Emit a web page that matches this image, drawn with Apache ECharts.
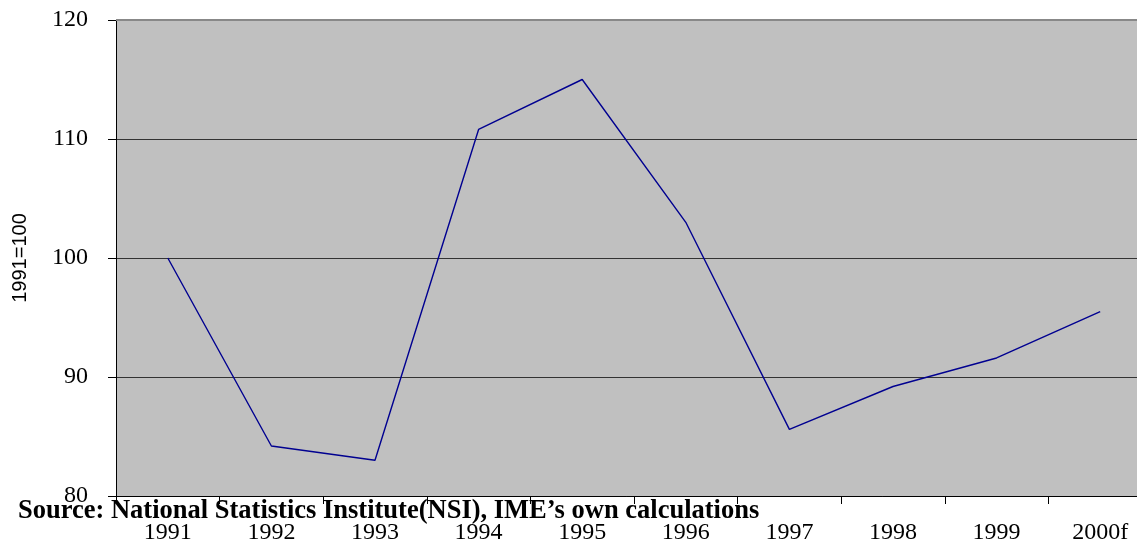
<!DOCTYPE html>
<html><head><meta charset="utf-8">
<script src="https://cdn.jsdelivr.net/npm/echarts@6/dist/echarts.min.js"></script>
<style>html,body{margin:0;padding:0;background:#fff;}#c{width:1137px;height:542px;}</style>
</head><body><div id="c"></div>
<script>
var categories = ['1991','1992','1993','1994','1995','1996','1997','1998','1999','2000f'];
var values = [100, 84.2, 83.0, 110.8, 115.0, 103.0, 85.6, 89.2, 91.6, 95.5];
var yTicks = [80, 90, 100, 110, 120];
var yName = '1991=100';
var sourceText = 'Source: National Statistics Institute(NSI), IME\u2019s own calculations';

var chart = echarts.init(document.getElementById('c'), null, {renderer:'canvas'});
chart.setOption({
  animation: false,
  backgroundColor: '#fff',
  grid: {left: 116, top: 20, width: 1036, height: 476, outerBoundsMode: 'none', containLabel: false,
         show: true, backgroundColor: '#c0c0c0', borderWidth: 0},
  xAxis: {
    type: 'category', data: categories, boundaryGap: true,
    axisLine: {show: true, lineStyle: {color: '#000', width: 1}},
    axisTick: {show: true, interval: 0, length: 8, lineStyle: {color: '#000'}},
    axisLabel: {interval: 0, margin: 25, color: '#000', fontFamily: 'Liberation Serif', fontSize: 24},
    splitLine: {show: false}
  },
  yAxis: {
    type: 'value', min: yTicks[0], max: yTicks[yTicks.length-1], interval: 10,
    name: yName, nameLocation: 'middle', nameRotate: 90, nameGap: 86,
    nameTextStyle: {fontFamily: 'Liberation Sans', fontSize: 20, color: '#000'},
    axisLine: {show: true, lineStyle: {color: '#000', width: 1}},
    axisTick: {show: true, length: 8, lineStyle: {color: '#000'}},
    axisLabel: {margin: 28, color: '#000', fontFamily: 'Liberation Serif', fontSize: 24, padding: [6, 0, 0, 0]},
    splitLine: {show: true, lineStyle: {color: ['#333','#333','#333','#333','#888'], width: 1.2}}
  },
  graphic: [{
    type: 'text', left: 18, top: 498, z: 100,
    style: {text: sourceText, fontFamily: 'Liberation Serif', fontWeight: 'bold', fontSize: 26.5, fill: '#000'}
  }],
  series: [{
    type: 'line', data: values, symbol: 'none',
    lineStyle: {color: '#000090', width: 1.4},
    markLine: {silent: true, symbol: 'none', label: {show: false},
      lineStyle: {color: '#888', width: 2, type: 'solid'},
      data: [{yAxis: yTicks[yTicks.length-1]}]}
  }]
});
</script></body></html>
